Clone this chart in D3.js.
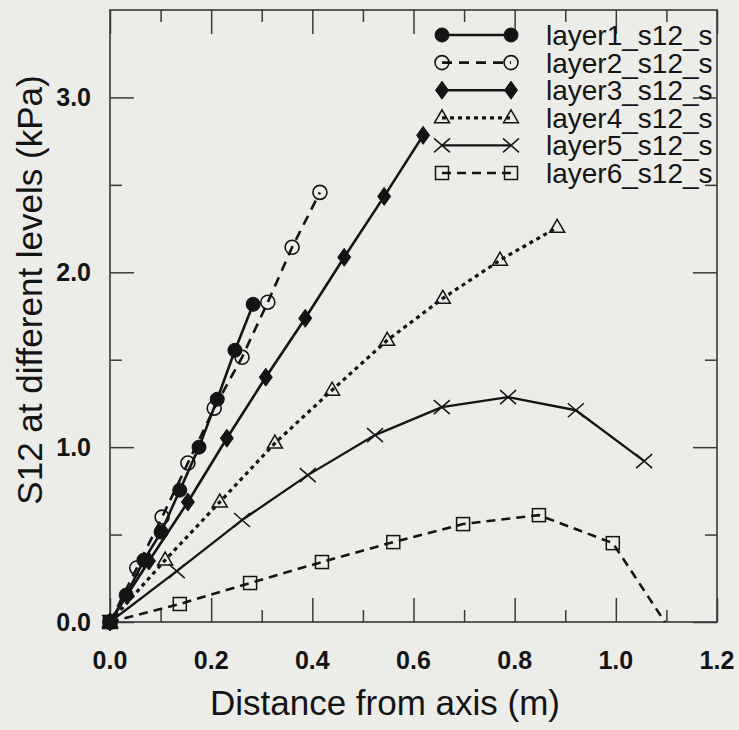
<!DOCTYPE html>
<html>
<head>
<meta charset="utf-8">
<script src="https://cdn.jsdelivr.net/npm/d3@7"></script>
<style>
  html, body { margin: 0; padding: 0; background: #ecece9; }
  svg { display: block; }
</style>
</head>
<body>
<svg id="chart" width="739" height="730"></svg>
<script>
// Shear stress S12 vs distance from axis, six levels
const layerNames = ["layer1_s12_s", "layer2_s12_s", "layer3_s12_s", "layer4_s12_s", "layer5_s12_s", "layer6_s12_s"];

const layer1X = [0, 0.032, 0.067, 0.101, 0.138, 0.176, 0.212, 0.247, 0.283];
const layer1Y = [0, 0.154, 0.354, 0.514, 0.754, 1.000, 1.274, 1.554, 1.817];
const layer2X = [0, 0.053, 0.103, 0.154, 0.206, 0.261, 0.312, 0.360, 0.415];
const layer2Y = [0, 0.309, 0.600, 0.909, 1.223, 1.514, 1.829, 2.143, 2.457];
const layer3X = [0, 0.077, 0.154, 0.231, 0.308, 0.386, 0.463, 0.542, 0.619];
const layer3Y = [0, 0.349, 0.686, 1.051, 1.400, 1.737, 2.086, 2.434, 2.783];
const layer4X = [0, 0.109, 0.217, 0.326, 0.439, 0.548, 0.658, 0.771, 0.884];
const layer4Y = [0, 0.354, 0.686, 1.023, 1.326, 1.611, 1.851, 2.069, 2.257];
const layer5X = [0, 0.132, 0.261, 0.391, 0.524, 0.656, 0.787, 0.921, 1.056];
const layer5Y = [0, 0.291, 0.583, 0.840, 1.069, 1.229, 1.286, 1.211, 0.920];
const layer6X = [0, 0.138, 0.277, 0.419, 0.560, 0.698, 0.848, 0.994, 1.097];
const layer6Y = [0, 0.103, 0.223, 0.343, 0.457, 0.560, 0.611, 0.451, 0];

const xTickValues = [0, 0.2, 0.4, 0.6, 0.8, 1.0, 1.2];
const yTickValues = [0, 1.0, 2.0, 3.0];
const xTitle = "Distance from axis (m)";
const yTitle = "S12 at different levels (kPa)";

const seriesX = [layer1X, layer2X, layer3X, layer4X, layer5X, layer6X];
const seriesY = [layer1Y, layer2Y, layer3Y, layer4Y, layer5Y, layer6Y];

// drawing style per series
const styles = [
  { marker: "circleFilled", dash: null,  width: 2.6 },
  { marker: "circleOpen",   dash: "10,7", width: 2.6 },
  { marker: "diamond",      dash: null,  width: 2.6 },
  { marker: "triangle",     dash: "4,4", width: 3.2 },
  { marker: "cross",        dash: null,  width: 2.3 },
  { marker: "square",       dash: "9,6", width: 2.6 }
];

const ink = "#141414";
const frameColor = "#3a3a3a";
const plotLeft = 110, plotRight = 717, plotTop = 10, plotBottom = 622;

const svg = d3.select("#chart");
const x = d3.scaleLinear().domain([0, 1.2]).range([plotLeft, plotRight]);
const y = d3.scaleLinear().domain([0, 3.5]).range([plotBottom, plotTop]);

svg.append("rect").attr("width", 739).attr("height", 730).attr("fill", "#ecece9");

// ticks on all four sides, pointing inward
const xMajor = d3.range(0, 1.2001, 0.2);
const xMinor = d3.range(0.1, 1.2, 0.2);
const yMajor = d3.range(0, 3.5001, 1.0);
const yMinor = d3.range(0.5, 3.5, 1.0);
const majorLen = 24, minorLen = 12;

function addAxis(gen, tx, ty) {
  const g = svg.append("g").attr("transform", `translate(${tx},${ty})`).call(gen);
  g.select(".domain").remove();
  g.selectAll(".tick text").remove();
  g.selectAll(".tick line").attr("stroke", frameColor).attr("stroke-width", 1.5);
  return g;
}
addAxis(d3.axisBottom(x).tickValues(xMajor).tickSize(-majorLen), 0, plotBottom);
addAxis(d3.axisBottom(x).tickValues(xMinor).tickSize(-minorLen), 0, plotBottom);
addAxis(d3.axisTop(x).tickValues(xMajor).tickSize(-majorLen), 0, plotTop);
addAxis(d3.axisTop(x).tickValues(xMinor).tickSize(-minorLen), 0, plotTop);
addAxis(d3.axisLeft(y).tickValues(yMajor).tickSize(-majorLen), plotLeft, 0);
addAxis(d3.axisLeft(y).tickValues(yMinor).tickSize(-minorLen), plotLeft, 0);
addAxis(d3.axisRight(y).tickValues(yMajor).tickSize(-majorLen), plotRight, 0);
addAxis(d3.axisRight(y).tickValues(yMinor).tickSize(-minorLen), plotRight, 0);

// frame
svg.append("rect")
  .attr("x", plotLeft).attr("y", plotTop)
  .attr("width", plotRight - plotLeft).attr("height", plotBottom - plotTop)
  .attr("fill", "none").attr("stroke", frameColor).attr("stroke-width", 1.6);

// tick labels
const labelFont = "'Liberation Sans', Arial, sans-serif";
svg.append("g").selectAll("text").data(xTickValues).join("text")
  .attr("x", d => x(d)).attr("y", 669)
  .attr("text-anchor", "middle")
  .attr("font-family", labelFont).attr("font-weight", "bold").attr("font-size", 25)
  .attr("fill", ink)
  .text(d => d.toFixed(1));

svg.append("g").selectAll("text").data(yTickValues).join("text")
  .attr("x", 91).attr("y", d => y(d) + 9)
  .attr("text-anchor", "end")
  .attr("font-family", labelFont).attr("font-weight", "bold").attr("font-size", 25)
  .attr("fill", ink)
  .text(d => d.toFixed(1));

// axis titles
svg.append("text")
  .attr("x", 385).attr("y", 715)
  .attr("text-anchor", "middle")
  .attr("font-family", labelFont).attr("font-size", 35)
  .attr("fill", ink)
  .text(xTitle);

svg.append("text")
  .attr("transform", "translate(42,290) rotate(-90)")
  .attr("text-anchor", "middle")
  .attr("font-family", labelFont).attr("font-size", 35)
  .attr("fill", ink)
  .text(yTitle);

// marker drawing
function drawMarker(g, kind, cx, cy) {
  switch (kind) {
    case "circleFilled":
      g.append("circle").attr("cx", cx).attr("cy", cy).attr("r", 7)
        .attr("fill", ink).attr("stroke", ink).attr("stroke-width", 1);
      break;
    case "circleOpen":
      g.append("circle").attr("cx", cx).attr("cy", cy).attr("r", 7)
        .attr("fill", "none").attr("stroke", ink).attr("stroke-width", 1.6);
      break;
    case "diamond":
      g.append("path")
        .attr("d", `M${cx},${cy - 9}L${cx + 6.5},${cy}L${cx},${cy + 9}L${cx - 6.5},${cy}Z`)
        .attr("fill", ink).attr("stroke", ink).attr("stroke-width", 1);
      break;
    case "triangle":
      g.append("path")
        .attr("d", `M${cx},${cy - 8}L${cx + 7.5},${cy + 5}L${cx - 7.5},${cy + 5}Z`)
        .attr("fill", "none").attr("stroke", ink).attr("stroke-width", 1.5);
      break;
    case "cross":
      g.append("path")
        .attr("d", `M${cx - 8},${cy - 7}L${cx + 8},${cy + 7}M${cx - 8},${cy + 7}L${cx + 8},${cy - 7}`)
        .attr("fill", "none").attr("stroke", ink).attr("stroke-width", 1.5);
      break;
    case "square":
      g.append("rect").attr("x", cx - 6.5).attr("y", cy - 6.5).attr("width", 13).attr("height", 13)
        .attr("fill", "none").attr("stroke", ink).attr("stroke-width", 1.5);
      break;
  }
}

const line = d3.line().x(d => x(d[0])).y(d => y(d[1]));

const plot = svg.append("g");

// draw back-to-front so the steep solid layers sit on top
[5, 4, 3, 2, 1, 0].forEach(i => {
  const pts = seriesX[i].map((v, k) => [v, seriesY[i][k]]);
  const st = styles[i];
  plot.append("path")
    .datum(pts)
    .attr("d", line)
    .attr("fill", "none")
    .attr("stroke", ink)
    .attr("stroke-width", st.width)
    .attr("stroke-dasharray", st.dash)
    .attr("stroke-linejoin", "round");
  const mg = plot.append("g");
  pts.forEach(p => {
    // a point that returns to the baseline away from the origin has no symbol
    if (p[1] === 0 && p[0] > 0) return;
    drawMarker(mg, st.marker, x(p[0]), y(p[1]));
  });
});

// legend
const legend = svg.append("g");
layerNames.forEach((name, i) => {
  const cy = 35 + i * 27.6;
  const st = styles[i];
  legend.append("line")
    .attr("x1", 442).attr("x2", 511).attr("y1", cy).attr("y2", cy)
    .attr("stroke", ink).attr("stroke-width", st.width)
    .attr("stroke-dasharray", st.dash);
  drawMarker(legend, st.marker, 442, cy);
  drawMarker(legend, st.marker, 511, cy);
  legend.append("text")
    .attr("x", 546).attr("y", cy + 10)
    .attr("font-family", labelFont).attr("font-size", 28)
    .attr("fill", ink)
    .text(name);
});
</script>
</body>
</html>
